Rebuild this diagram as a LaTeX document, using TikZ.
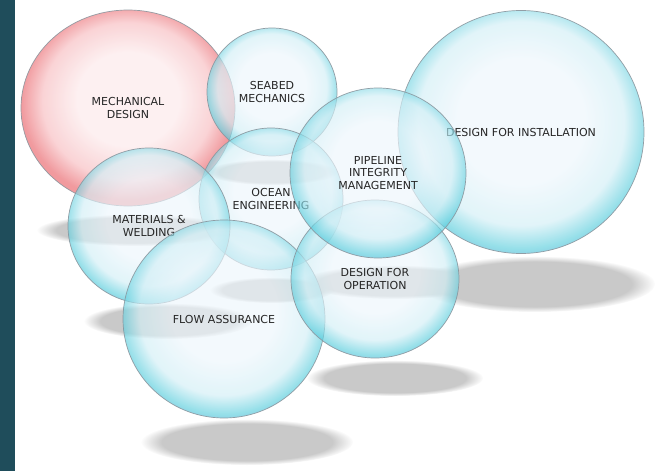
\documentclass[tikz,border=0pt]{standalone}
\usepackage{fontspec}
\setmainfont{DejaVu Sans}
\usetikzlibrary{shapes.geometric,fadings}
\definecolor{stripe-teal}{HTML}{1F4D5B}
\definecolor{bubble-core}{HTML}{EDF6FC}
\definecolor{bubble-mid}{HTML}{D2EFF6}
\definecolor{bubble-rim}{HTML}{5ECFDE}
\definecolor{bubble-deep}{HTML}{4BA8D2}
\definecolor{bubble-line}{HTML}{8A959D}
\definecolor{rose-core}{HTML}{FDEDEE}
\definecolor{rose-mid}{HTML}{F9CACD}
\definecolor{rose-rim}{HTML}{EE8489}
\definecolor{label-grey}{HTML}{262626}

\pgfdeclareradialshading{bubble}{\pgfpoint{0bp}{3bp}}{color(0bp)=(bubble-core); color(13bp)=(bubble-core); color(21bp)=(bubble-mid); color(25.5bp)=(bubble-rim); color(28bp)=(bubble-deep); color(50bp)=(bubble-deep)}
\pgfdeclareradialshading{rosebubble}{\pgfpoint{0bp}{3bp}}{color(0bp)=(rose-core); color(12bp)=(rose-core); color(20bp)=(rose-mid); color(25bp)=(rose-rim); color(50bp)=(rose-rim)}

\tikzset{
  bubble/.style={ellipse, draw=bubble-line, line width=0.7pt, shading=bubble,
    fill opacity=0.66, text opacity=1, draw opacity=0.9, align=center, inner sep=0pt,
    text=label-grey, font=\fontsize{11}{12.8}\selectfont},
  rose/.style={bubble, shading=rosebubble, fill opacity=0.82},
  floor shadow/.style={fill=black!21, path fading=circle with fuzzy edge 20 percent}
}

\begin{document}
\begin{tikzpicture}[x=1pt, y=-1pt]
  \useasboundingbox (0,0) rectangle (662,471);
  \fill[white] (0,0) rectangle (662,471);
  \fill[stripe-teal] (0,0) rectangle (15,471);

  \fill[floor shadow] (135,230) ellipse (98pt and 16pt);
  \fill[floor shadow] (272,172) ellipse (66pt and 13pt);
  \fill[floor shadow] (535,284) ellipse (120pt and 28pt);
  \fill[floor shadow] (395,282) ellipse (95pt and 17pt);
  \fill[floor shadow] (272,290) ellipse (62pt and 13pt);
  \fill[floor shadow] (168,321) ellipse (84pt and 18pt);
  \fill[floor shadow] (395,378) ellipse (88pt and 18pt);
  \fill[floor shadow] (247,442) ellipse (106pt and 23pt);

  \node[rose, minimum width=214pt, minimum height=196pt] (b1) at (128,108) {MECHANICAL\\DESIGN};
  \node[bubble, minimum width=130pt, minimum height=128pt] (b2) at (272,92) {SEABED\\MECHANICS};
  \node[bubble, minimum width=246pt, minimum height=243pt] (b3) at (521,132) {DESIGN FOR INSTALLATION};
  \node[bubble, minimum width=144pt, minimum height=142pt] (b4) at (271,199) {OCEAN\\ENGINEERING};
  \node[bubble, minimum width=162pt, minimum height=156pt] (b5) at (149,226) {MATERIALS \&\\WELDING};
  \node[bubble, minimum width=202pt, minimum height=198pt] (b6) at (224,319) {FLOW ASSURANCE};
  \node[bubble, minimum width=168pt, minimum height=158pt] (b7) at (375,279) {DESIGN FOR\\OPERATION};
  \node[bubble, minimum width=176pt, minimum height=170pt] (b8) at (378,173) {PIPELINE\\INTEGRITY\\MANAGEMENT};
\end{tikzpicture}
\end{document}
